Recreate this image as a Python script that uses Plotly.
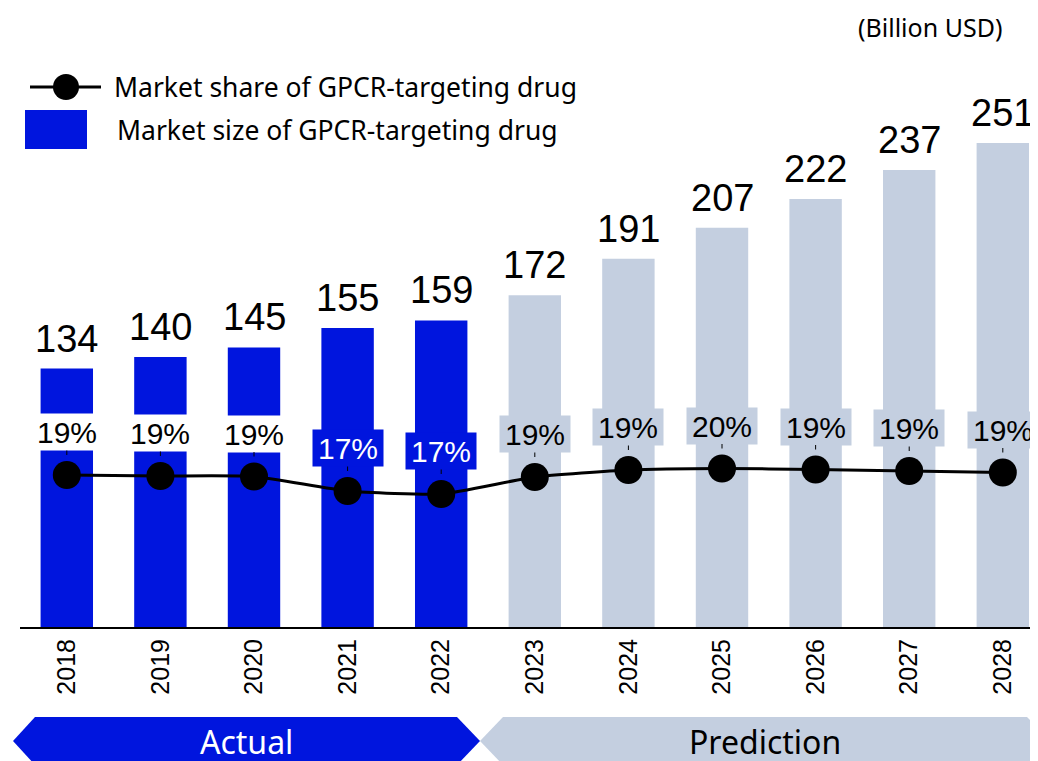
import plotly.graph_objects as go

# data
years = ["2018", "2019", "2020", "2021", "2022", "2023", "2024", "2025", "2026", "2027", "2028"]
market_size = [134, 140, 145, 155, 159, 172, 191, 207, 222, 237, 251]
market_share = [18.85, 18.75, 18.7, 17.25, 16.95, 18.65, 19.35, 19.5, 19.4, 19.25, 19.1]
share_labels = ["19%", "19%", "19%", "17%", "17%", "19%", "19%", "20%", "19%", "19%", "19%"]
n_actual = 5  # 2018-2022 actual, rest predicted

BLUE = "#0015DE"
GREY = "#C4CFE0"
FONT = "Liberation Sans"
TEXT_FONT = "Noto Sans"

W, H = 1038, 761
OFF = 8  # page body margin
ML, MR, MT, MB = 12, 8, 0, 142
PW, PH = W - ML - MR, H - MT - MB


# screen pixel -> paper fraction
def px_x(x):
    return (x - OFF - ML) / PW


def px_y(y):
    return (MT + PH - (y - OFF)) / PH


bar_colors = [BLUE if i < n_actual else GREY for i in range(len(years))]

fig = go.Figure()

fig.add_trace(go.Bar(
    x=years,
    y=market_size,
    marker=dict(color=bar_colors, line=dict(width=0)),
    width=0.56,
    showlegend=False,
    hoverinfo="x+y",
))

fig.add_trace(go.Scatter(
    x=years,
    y=market_share,
    yaxis="y2",
    mode="lines+markers",
    line=dict(color="black", width=3, shape="spline", smoothing=0.5),
    marker=dict(color="black", size=28),
    showlegend=False,
))

annotations = []

# value labels above bars
for i, v in enumerate(market_size):
    annotations.append(dict(
        x=i, y=v, xref="x", yref="y", text=str(v), showarrow=False,
        yanchor="bottom", yshift=7, font=dict(size=38, color="black", family=FONT),
    ))

# share labels with boxes
for i, (s, lab) in enumerate(zip(market_share, share_labels)):
    if i < 3:
        bg, fc = "white", "black"
    elif i < n_actual:
        bg, fc = BLUE, "white"
    else:
        bg, fc = GREY, "black"
    annotations.append(dict(
        x=i, y=s, xref="x", yref="y2", text=lab,
        showarrow=True, arrowhead=0, arrowwidth=1, arrowcolor="black",
        ax=0, ay=-43, standoff=20,
        bgcolor=bg, width=68, height=34,
        font=dict(size=30, color=fc, family=FONT),
    ))

# unit note
annotations.append(dict(
    x=px_x(1004), y=1.0, xref="paper", yref="paper", text="(Billion USD)",
    showarrow=False, xanchor="right", yanchor="top",
    font=dict(size=25, color="black", family=TEXT_FONT),
))

# legend texts
annotations.append(dict(
    x=px_x(112), y=px_y(87), xref="paper", yref="paper",
    text="Market share of GPCR-targeting drug", showarrow=False,
    xanchor="left", yanchor="middle", font=dict(size=26.5, color="black", family=TEXT_FONT),
))
annotations.append(dict(
    x=px_x(115), y=px_y(130), xref="paper", yref="paper",
    text="Market size of GPCR-targeting drug", showarrow=False,
    xanchor="left", yanchor="middle", font=dict(size=26.5, color="black", family=TEXT_FONT),
))

# period labels
annotations.append(dict(
    x=px_x(246), y=px_y(741), xref="paper", yref="paper", text="Actual",
    showarrow=False, xanchor="center", yanchor="middle",
    font=dict(size=32, color="white", family=TEXT_FONT),
))
annotations.append(dict(
    x=px_x(765), y=px_y(741), xref="paper", yref="paper", text="Prediction",
    showarrow=False, xanchor="center", yanchor="middle",
    font=dict(size=32, color="black", family=TEXT_FONT),
))


def poly(points):
    return "M " + " L ".join(f"{px_x(x):.5f},{px_y(y):.5f}" for x, y in points) + " Z"


shapes = [
    # legend line + marker
    dict(type="line", xref="paper", yref="paper",
         x0=px_x(30), x1=px_x(101), y0=px_y(87), y1=px_y(87),
         line=dict(color="black", width=3)),
    dict(type="circle", xref="paper", yref="paper",
         x0=px_x(53), x1=px_x(79), y0=px_y(100), y1=px_y(74),
         fillcolor="black", line=dict(width=0)),
    # legend bar swatch
    dict(type="rect", xref="paper", yref="paper",
         x0=px_x(25), x1=px_x(87), y0=px_y(149), y1=px_y(110),
         fillcolor=BLUE, line=dict(width=0)),
    # period arrows
    dict(type="path", xref="paper", yref="paper",
         path=poly([(13, 741), (35, 717), (457, 717), (480, 741), (457, 765), (35, 765)]),
         fillcolor=BLUE, line=dict(width=0), layer="below"),
    dict(type="path", xref="paper", yref="paper",
         path=poly([(480, 741), (503, 717), (1027, 717), (1051, 741), (1027, 765), (503, 765)]),
         fillcolor=GREY, line=dict(width=0), layer="below"),
]

fig.update_layout(
    width=W, height=H,
    margin=dict(l=ML, r=MR, t=MT, b=MB, pad=0),
    paper_bgcolor="white", plot_bgcolor="white",
    font=dict(family=FONT, color="black"),
    xaxis=dict(
        type="category", range=[-0.5, 10.376],
        showline=True, linecolor="black", linewidth=2,
        showgrid=False, ticks="", tickangle=-90,
        tickfont=dict(size=25, color="black", family=FONT),
    ),
    yaxis=dict(range=[0, 321.0], visible=False, showgrid=False, zeroline=False),
    yaxis2=dict(range=[3.65, 65.55], overlaying="y", visible=False, showgrid=False, zeroline=False),
    annotations=annotations,
    shapes=shapes,
)

fig.write_html("out.html")
